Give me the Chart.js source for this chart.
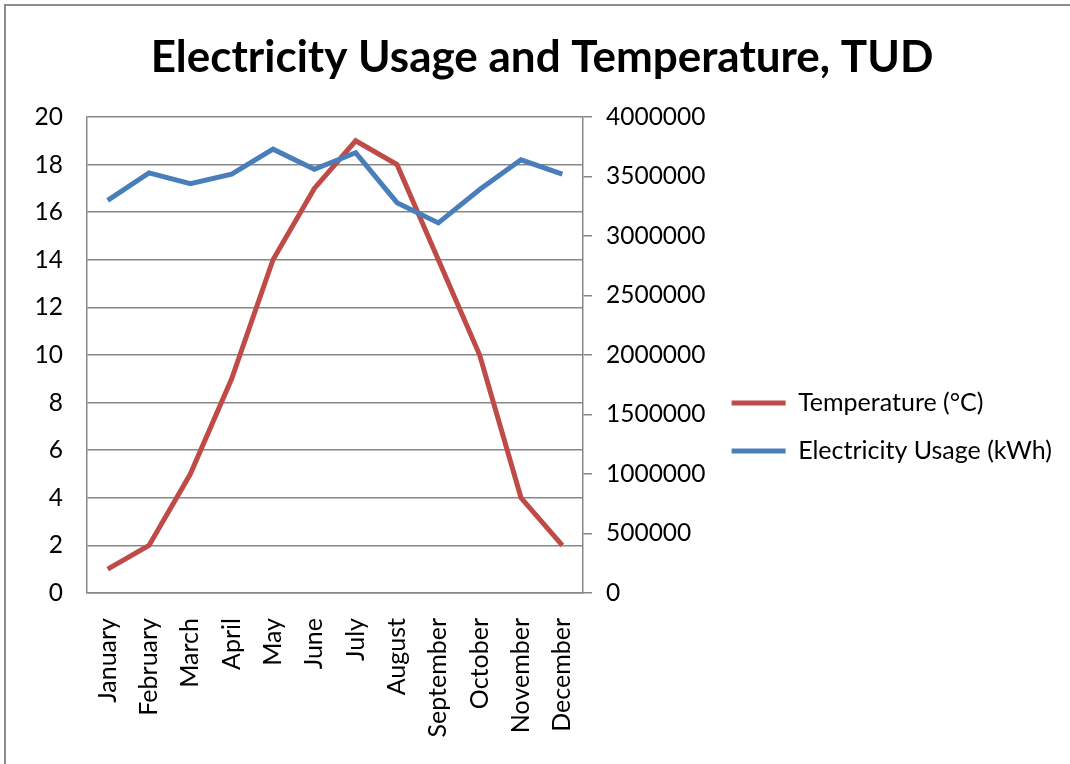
<!DOCTYPE html>
<html>
<head>
<meta charset="utf-8">
<title>Electricity Usage and Temperature, TUD</title>
<script src="https://cdn.jsdelivr.net/npm/chart.js@4"></script>
<style>
  body { margin: 0; background: #fff; }
  #wrap { position: relative; width: 1070px; height: 764px; overflow: hidden; }
  /* the frame around the chart only shows on the top and left */
  #frame { position: absolute; left: 4px; top: 4px; right: -10px; bottom: -10px;
           border-top: 2px solid #8c8c8c; border-left: 2px solid #8c8c8c; }
  canvas { position: absolute; left: 0; top: 0; }
</style>
</head>
<body>
<div id="wrap">
  <div id="frame"></div>
  <canvas id="usageTemp" width="1070" height="764"></canvas>
</div>
<script>
const months = ["January", "February", "March", "April", "May", "June",
    "July", "August", "September", "October", "November", "December"];
// monthly mean temperature (°C)
const temperature = [1, 2, 5, 9, 14, 17, 19, 18, 14, 10, 4, 2];
// monthly electricity usage (kWh)
const electricity = [3300000, 3530000, 3440000, 3520000, 3730000, 3560000,
    3700000, 3280000, 3110000, 3390000, 3640000, 3520000];
// tick labels of both value axes
const tempTicks = [0, 2, 4, 6, 8, 10, 12, 14, 16, 18, 20];
const usageTicks = [0, 500000, 1000000, 1500000, 2000000, 2500000, 3000000, 3500000, 4000000];

Chart.defaults.font.family = "Lato, 'Open Sans', sans-serif";
Chart.defaults.color = "#000";

const gray = "#878787";

let usageTempCtx = document.getElementById("usageTemp").getContext("2d");

let usageTempChart = new Chart(usageTempCtx, {
    type: "line",
    data: {
        labels: months,
        datasets: [
            {
                label: "Temperature (°C)",
                // red
                borderColor: "#be4b48",
                backgroundColor: "#be4b48",
                borderWidth: 5,
                pointRadius: 0,
                yAxisID: "y",
                order: 1,
                data: temperature,
            },
            {
                label: "Electricity Usage (kWh)",
                // blue
                borderColor: "#4a7ebb",
                backgroundColor: "#4a7ebb",
                borderWidth: 5,
                pointRadius: 0,
                yAxisID: "y1",
                order: 0,
                data: electricity,
            },
        ],
    },
    options: {
        responsive: false,
        animation: false,
        layout: {
            padding: { left: 22, right: 8, top: 0, bottom: 0 },
        },
        plugins: {
            title: {
                display: true,
                text: "Electricity Usage and Temperature, TUD",
                font: { size: 44, weight: "bold" },
                padding: { top: 31.6, bottom: 32.6 },
            },
            // legend on the right, items drawn as short lines
            legend: {
                position: "right",
                maxWidth: 420,
                title: {
                    display: true,
                    text: "",
                    font: { size: 10 },
                    padding: { top: 78, bottom: 0 },
                },
                labels: {
                    usePointStyle: true,
                    pointStyle: "line",
                    pointStyleWidth: 54,
                    padding: 23,
                    font: { size: 25 },
                    // keep the series order, not the drawing order
                    sort: (a, b) => a.datasetIndex - b.datasetIndex,
                },
            },
            tooltip: { enabled: false },
        },
        scales: {
            x: {
                offset: true,
                grid: { display: false, drawTicks: false, offset: true },
                border: { display: true, color: gray, width: 1.5 },
                ticks: {
                    minRotation: 90,
                    maxRotation: 90,
                    padding: 25,
                    font: { size: 25 },
                },
                afterFit: (scale) => {
                    scale.height = 171;
                },
            },
            y: {
                position: "left",
                min: 0,
                max: 20,
                afterBuildTicks: (scale) => {
                    scale.ticks = tempTicks.map((v) => ({ value: v }));
                },
                grid: { color: gray, lineWidth: 1.5, drawTicks: false },
                border: { display: true, color: gray, width: 1.5 },
                ticks: { padding: 24, font: { size: 24.5 } },
                afterFit: (scale) => {
                    scale.width = 65;
                },
            },
            y1: {
                position: "right",
                min: 0,
                max: 4000000,
                afterBuildTicks: (scale) => {
                    scale.ticks = usageTicks.map((v) => ({ value: v }));
                },
                grid: {
                    drawOnChartArea: false,
                    color: gray,
                    lineWidth: 1.5,
                    tickLength: 9,
                },
                border: { display: true, color: gray, width: 1.5 },
                ticks: {
                    padding: 14,
                    font: { size: 24.5 },
                    callback: (v) => String(v),
                },
                // keep the plot right edge fixed, the legend takes the rest
                afterFit: (scale) => {
                    const ch = scale.chart;
                    scale.width = ch.width - 8 - ch.legend.width - 583;
                },
            },
        },
    },
});
</script>
</body>
</html>
